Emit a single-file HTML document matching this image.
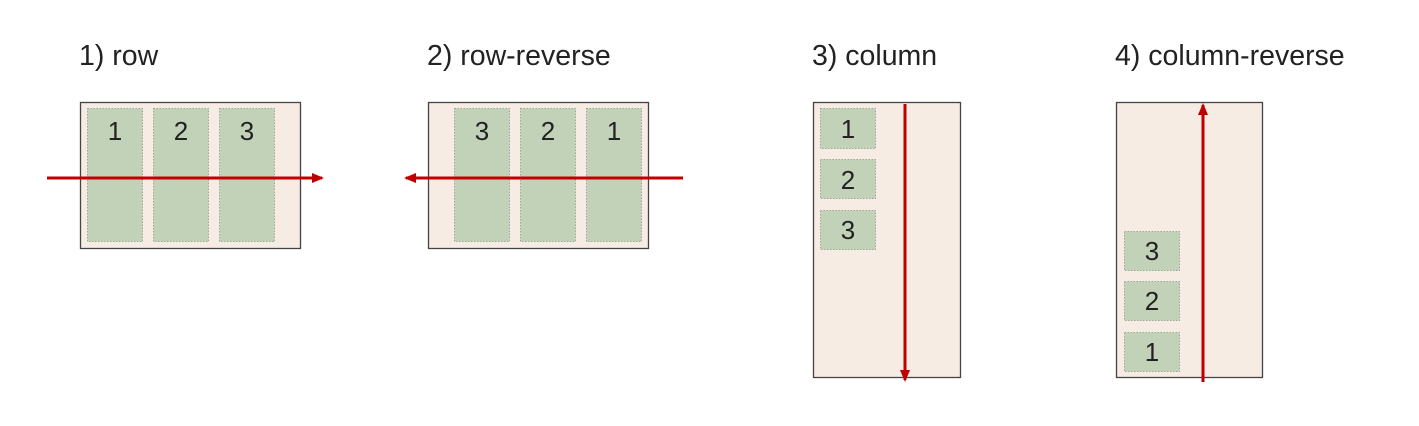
<!DOCTYPE html>
<html><head><meta charset="utf-8"><style>
body{margin:0;background:#fff;width:1419px;height:421px;overflow:hidden}
text{font-family:"Liberation Sans",sans-serif;fill:#222}
.t{font-size:28.5px}
.n{font-size:26px}
.box{fill:#f6ece4;stroke:#444;stroke-width:1.3}
.it{fill:#c1d2b8;stroke:#9aa897;stroke-width:1;stroke-dasharray:1.5 1.5}
.ar{stroke:#c00000;stroke-width:3}
</style></head><body>
<svg width="1419" height="421">
<defs><marker id="ah" markerWidth="12" markerHeight="10" refX="10" refY="5" orient="auto" markerUnits="userSpaceOnUse"><path d="M0,0 L12,5 L0,10z" fill="#c00000"/></marker></defs>

<g>
<text class="t" x="79" y="65">1) row</text>
<rect class="box" x="80.5" y="102.5" width="220" height="146"/>
<rect class="it" x="87.5" y="108.5" width="55" height="133"/>
<rect class="it" x="153.5" y="108.5" width="55" height="133"/>
<rect class="it" x="219.5" y="108.5" width="55" height="133"/>
<text class="n" x="115" y="140" text-anchor="middle">1</text>
<text class="n" x="181" y="140" text-anchor="middle">2</text>
<text class="n" x="247" y="140" text-anchor="middle">3</text>
<line class="ar" x1="47" y1="178" x2="322" y2="178" marker-end="url(#ah)"/>
</g>

<g>
<text class="t" x="427" y="65">2) row-reverse</text>
<rect class="box" x="428.5" y="102.5" width="220" height="146"/>
<rect class="it" x="454.5" y="108.5" width="55" height="133"/>
<rect class="it" x="520.5" y="108.5" width="55" height="133"/>
<rect class="it" x="586.5" y="108.5" width="55" height="133"/>
<text class="n" x="482" y="140" text-anchor="middle">3</text>
<text class="n" x="548" y="140" text-anchor="middle">2</text>
<text class="n" x="614" y="140" text-anchor="middle">1</text>
<line class="ar" x1="683" y1="178" x2="406" y2="178" marker-end="url(#ah)"/>
</g>

<g>
<text class="t" x="812" y="65">3) column</text>
<rect class="box" x="813.5" y="102.5" width="147" height="275"/>
<rect class="it" x="820.5" y="108.5" width="55" height="40"/>
<rect class="it" x="820.5" y="159.5" width="55" height="39"/>
<rect class="it" x="820.5" y="210.5" width="55" height="39"/>
<text class="n" x="848" y="138" text-anchor="middle">1</text>
<text class="n" x="848" y="189" text-anchor="middle">2</text>
<text class="n" x="848" y="239" text-anchor="middle">3</text>
<line class="ar" x1="905" y1="104" x2="905" y2="380" marker-end="url(#ah)"/>
</g>

<g>
<text class="t" x="1115" y="65">4) column-reverse</text>
<rect class="box" x="1116.5" y="102.5" width="146" height="275"/>
<rect class="it" x="1124.5" y="231.5" width="55" height="39"/>
<rect class="it" x="1124.5" y="281.5" width="55" height="39"/>
<rect class="it" x="1124.5" y="332.5" width="55" height="39"/>
<text class="n" x="1152" y="260" text-anchor="middle">3</text>
<text class="n" x="1152" y="310" text-anchor="middle">2</text>
<text class="n" x="1152" y="361" text-anchor="middle">1</text>
<line class="ar" x1="1203" y1="382" x2="1203" y2="105" marker-end="url(#ah)"/>
</g>
</svg>
</body></html>
